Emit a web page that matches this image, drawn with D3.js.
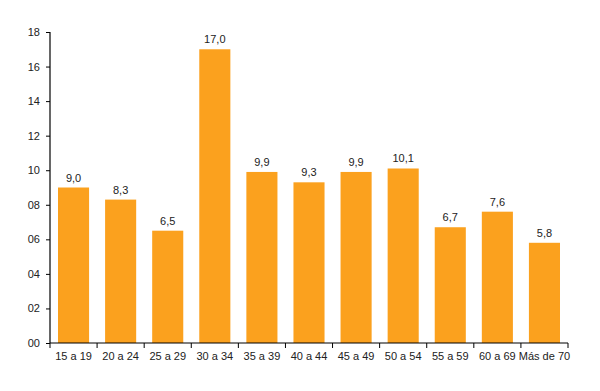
<!DOCTYPE html>
<html><head><meta charset="utf-8">
<script src="https://cdn.jsdelivr.net/npm/d3@7"></script>
<style>body{margin:0;background:#fff;}svg{display:block;}</style>
</head><body>
<svg id="c" width="600" height="391"></svg>
<script>
const categories = ["15 a 19","20 a 24","25 a 29","30 a 34","35 a 39","40 a 44","45 a 49","50 a 54","55 a 59","60 a 69","Más de 70"];
const values = [9.0,8.3,6.5,17.0,9.9,9.3,9.9,10.1,6.7,7.6,5.8];
const yTicks = [0,2,4,6,8,10,12,14,16,18];
const yTickLabels = ["00","02","04","06","08","10","12","14","16","18"];

(function(){
const svg = d3.select("#c");
const mL = 50, mR = 568, mT = 32, mB = 343;
const x = d3.scaleBand().domain(categories).range([mL, mR]).paddingInner(0.34).paddingOuter(0.17);
const y = d3.scaleLinear().domain([0, 18]).range([mB, mT]);
const font = "Liberation Sans, Arial, sans-serif";
const txt = "#222";

svg.selectAll("rect.bar").data(values).enter().append("rect")
  .attr("x", (d,i) => x(categories[i]))
  .attr("y", d => y(d))
  .attr("width", x.bandwidth())
  .attr("height", d => y(0) - y(d))
  .attr("fill", "#FBA11E");

svg.selectAll("text.val").data(values).enter().append("text")
  .attr("x", (d,i) => x(categories[i]) + x.bandwidth()/2)
  .attr("y", d => y(d) - 6)
  .attr("text-anchor", "middle")
  .attr("font-family", font).attr("font-size", 11).attr("fill", txt)
  .text(d => d.toFixed(1).replace(".", ","));

const yAxis = d3.axisLeft(y).tickValues(yTicks).tickSize(4).tickPadding(6)
  .tickFormat((d,i) => yTickLabels[i]);
const gy = svg.append("g").attr("transform", `translate(${mL},0)`).call(yAxis);
gy.select(".domain").attr("d", `M0,${mT}V${mB}`).attr("stroke", "#000").attr("stroke-width", 1.2);
gy.selectAll(".tick line").attr("stroke", "#000");
gy.selectAll(".tick text").attr("font-family", font).attr("font-size", 11).attr("fill", txt);

const boundaries = d3.range(categories.length + 1).map(i => mL + i * (mR - mL) / categories.length);
const gx = svg.append("g");
gx.append("line").attr("x1", mL).attr("x2", mR).attr("y1", mB).attr("y2", mB)
  .attr("stroke", "#000").attr("stroke-width", 1.2);
gx.selectAll("line.tk").data(boundaries).enter().append("line")
  .attr("x1", d => d).attr("x2", d => d).attr("y1", mB).attr("y2", mB + 5)
  .attr("stroke", "#000");
gx.selectAll("text.lab").data(categories).enter().append("text")
  .attr("x", d => x(d) + x.bandwidth()/2)
  .attr("y", 360)
  .attr("text-anchor", "middle")
  .attr("font-family", font).attr("font-size", 11).attr("fill", txt)
  .text(d => d);
})();
</script>
</body></html>
